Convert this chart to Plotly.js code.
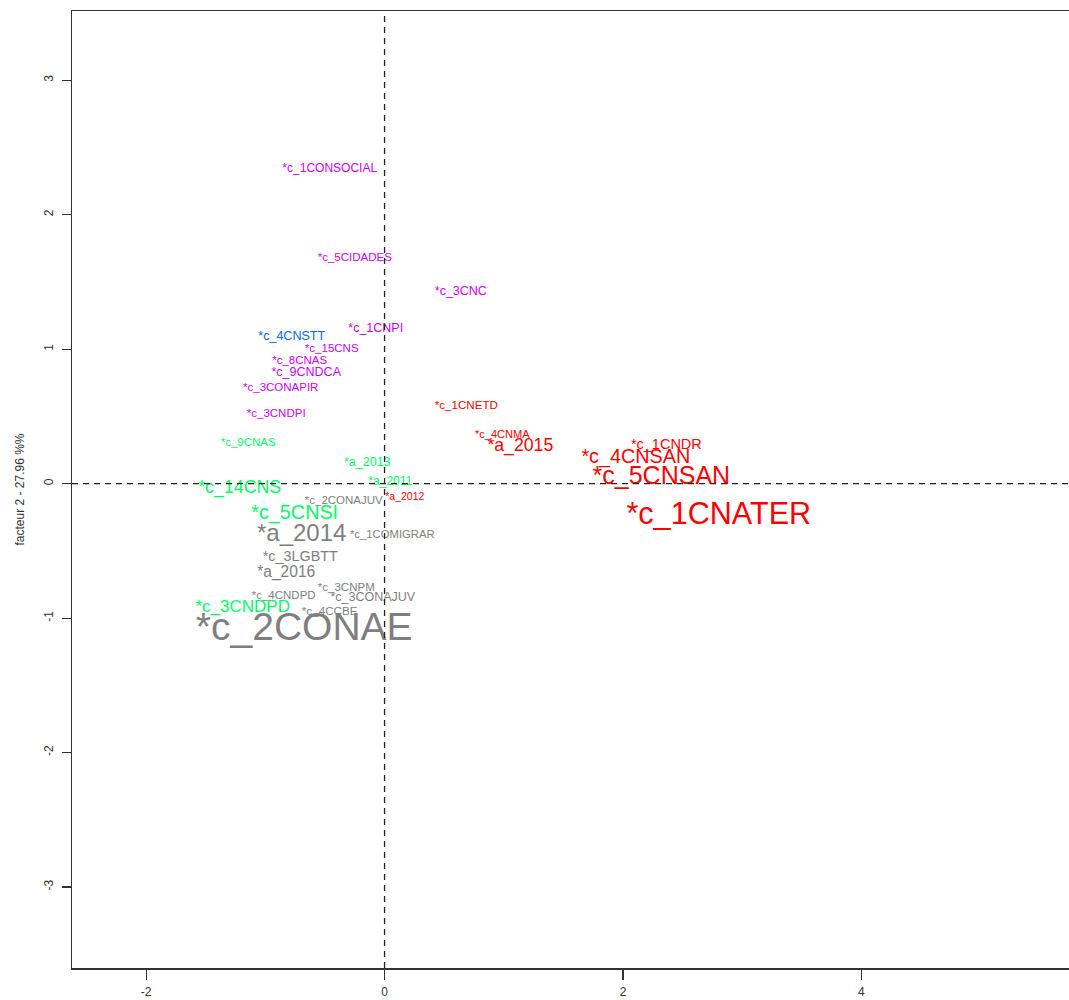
<!DOCTYPE html>
<html>
<head>
<meta charset="utf-8">
<script src="https://cdn.plot.ly/plotly-3.0.1.min.js"></script>
<style>
html,body{margin:0;padding:0;overflow:hidden;background:#fff;}
#chart{width:1080px;height:1000px;}
</style>
</head>
<body>
<div id="chart"></div>
<script>
// Labels of the correspondence analysis (factor 1 / factor 2)
const labels = [
  "*c_1CONSOCIAL","*c_5CIDADES","*c_3CNC","*c_1CNPI","*c_4CNSTT","*c_15CNS",
  "*c_8CNAS","*c_9CNDCA","*c_3CONAPIR","*c_3CNDPI","*c_9CNAS","*a_2013",
  "*a_2011","*a_2012","*c_14CNS","*c_2CONAJUV","*c_5CNSI","*a_2014",
  "*c_1COMIGRAR","*c_3LGBTT","*a_2016","*c_4CNDPD","*c_3CNPM","*c_3CONAJUV",
  "*c_4CCBE","*c_3CNDPD","*c_2CONAE","*c_1CNETD","*c_4CNMA","*a_2015",
  "*c_1CNDR","*c_4CNSAN","*c_5CNSAN","*c_1CNATER"
];
const factor1 = [
  -0.46,-0.25,0.64,-0.074,-0.779,-0.443,
  -0.712,-0.657,-0.871,-0.909,-1.144,-0.145,
  0.048,0.17,-1.215,-0.342,-0.754,-0.695,
  0.065,-0.707,-0.825,-0.846,-0.321,-0.099,
  -0.46,-1.19,-0.674,0.686,0.988,1.139,
  2.364,2.108,2.322,2.804
];
const factor2 = [
  2.34,1.68,1.428,1.15,1.091,1.002,
  0.912,0.823,0.712,0.518,0.303,0.154,
  0.013,-0.099,-0.039,-0.129,-0.225,-0.381,
  -0.381,-0.55,-0.662,-0.833,-0.776,-0.85,
  -0.954,-0.922,-1.088,0.578,0.357,0.273,
  0.288,0.191,0.042,-0.245
];
// classes (cluster of each label)
const cluster = [
  "c5","c5","c5","c5","c4","c5",
  "c5","c5","c5","c5","c3","c3",
  "c3","c1","c3","none","c3","none",
  "none","none","none","none","none","none",
  "none","c3","none","c1","c1","c1",
  "c1","c1","c1","c1"
];
// relative weight of each label (drawn as text size)
const weight = [
  12,11.5,12.5,12.5,12.5,11.5,
  11.5,12.5,11.5,11.5,11.5,12.5,
  12,10.5,17.8,11.5,19.8,24,
  11.3,14.4,15.6,11.5,11.5,12.5,
  11.7,17,39,11.6,11.1,17.7,
  14.5,19.8,25,30.6
];
const clusterColors = {c1:"#FF0000", c3:"#00FF66", c4:"#0066FF", c5:"#CC00FF", none:"#7F7F7F"};
const xTicks = [-2,0,2,4];
const yTicks = [-3,-2,-1,0,1,2,3];
const yTitle = "facteur 2 - 27.96 %%";

const trace = {
  type: "scatter",
  mode: "text",
  x: factor1,
  y: factor2,
  text: labels,
  textposition: "middle center",
  textfont: {
    family: "Liberation Sans, Arial, sans-serif",
    size: weight,
    color: cluster.map(c => clusterColors[c])
  },
  hoverinfo: "text",
  showlegend: false,
  cliponaxis: true
};

const axisCommon = {
  showgrid: false,
  zeroline: false,
  showline: true,
  mirror: true,
  linecolor: "#333",
  linewidth: 1.5,
  ticks: "outside",
  tickcolor: "#333",
  tickwidth: 1.2,
  tickfont: {family: "Liberation Sans, Arial, sans-serif", size: 12, color: "#333"}
};

const layout = {
  width: 1080,
  height: 1000,
  margin: {l: 72, r: 0, t: 11, b: 32},
  paper_bgcolor: "#fff",
  plot_bgcolor: "#fff",
  font: {family: "Liberation Sans, Arial, sans-serif"},
  xaxis: Object.assign({}, axisCommon, {
    range: [-2.622, 5.834],
    tickvals: xTicks,
    ticktext: xTicks.map(String),
    ticklen: 10,
    ticklabelstandoff: 2
  }),
  yaxis: Object.assign({}, axisCommon, {
    range: [-3.602, 3.515],
    tickvals: yTicks,
    ticktext: yTicks.map(String),
    ticklen: 9,
    tickangle: -90,
    ticklabelstandoff: 4,
    title: {text: yTitle, font: {size: 12, color: "#333"}, standoff: 14}
  }),
  shapes: [
    {type: "line", xref: "x", yref: "paper", x0: 0, x1: 0, y0: 0, y1: 1,
     line: {color: "#222", width: 1.3, dash: "6px,5px"}, layer: "above"},
    {type: "line", xref: "paper", yref: "y", x0: 0, x1: 1, y0: 0, y1: 0,
     line: {color: "#222", width: 1.3, dash: "6px,5px"}, layer: "above"}
  ]
};

Plotly.newPlot("chart", [trace], layout, {displayModeBar: false, staticPlot: true});
</script>
</body>
</html>
